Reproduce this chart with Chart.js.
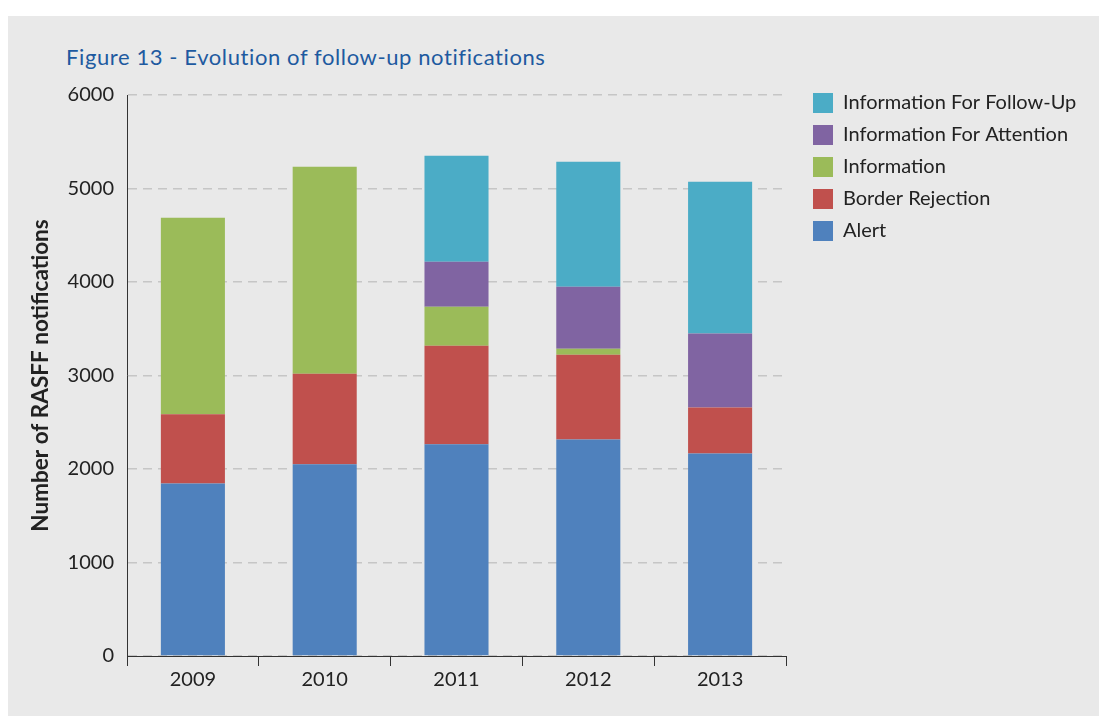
<!DOCTYPE html>
<html>
<head>
<meta charset="utf-8">
<script src="https://cdn.jsdelivr.net/npm/chart.js@4.4.1/dist/chart.umd.min.js"></script>
<style>
  html, body { margin: 0; padding: 0; background: #ffffff; }
  #panel { position: absolute; left: 8px; top: 16px; width: 1091px; height: 700px; background: #e9e9e9; }
  #title { position: absolute; left: 58px; top: 27px; font: 22px Lato, sans-serif; letter-spacing: 0.6px; color: #1e5aa0; white-space: nowrap; }
  #chart { position: absolute; left: 0; top: 0; }
</style>
</head>
<body>
<div id="panel">
  <div id="title">Figure 13 - Evolution of follow-up notifications</div>
  <canvas id="chart" width="1091" height="700"></canvas>
</div>
<script>
// Data ------------------------------------------------------------

const years = ['2009', '2010', '2011', '2012', '2013'];

const alert = [1845, 2051, 2265, 2315, 2166];
const borderRejection = [740, 969, 1054, 908, 491];
const information = [2102, 2212, 417, 64, 0];
const forAttention = [0, 0, 481, 662, 791];
const forFollowUp = [0, 0, 1132, 1336, 1623];

const yTicks = [0, 1000, 2000, 3000, 4000, 5000, 6000];

// Chart -----------------------------------------------------------

const textColor = '#222222';
const axisColor = '#333333';

// moves the legend a bit right and up so it sits like in the report,
// and lets it run to the canvas edge (legend clips to its own box)
const legendNudge = {
  id: 'legendNudge',
  afterLayout(chart) {
    const lg = chart.legend;
    lg.left += 15;
    lg.right = chart.width;
    lg.width = lg.right - lg.left;
    lg.top -= 14; lg.bottom -= 14;
  }
};

const data = {
  labels: years,
  datasets: [
    { label: 'Alert', data: alert, backgroundColor: '#4f81bd' },
    { label: 'Border Rejection', data: borderRejection, backgroundColor: '#c0504d' },
    { label: 'Information', data: information, backgroundColor: '#9bbb59' },
    { label: 'Information For Attention', data: forAttention, backgroundColor: '#8064a2' },
    { label: 'Information For Follow-Up', data: forFollowUp, backgroundColor: '#4bacc6' }
  ]
};

const config = {
  type: 'bar',
  data,
  options: {
    responsive: false,
    devicePixelRatio: 1,
    animation: false,
    barPercentage: 0.486,
    categoryPercentage: 1,
    borderWidth: 0,
    layout: { padding: { top: 79, left: 10, right: 57, bottom: 0 } },
    plugins: {
      tooltip: { enabled: false },
      legend: {
        position: 'right',
        align: 'start',
        reverse: true,
        labels: {
          boxWidth: 20,
          boxHeight: 20,
          padding: 12,
          color: textColor,
          font: { family: 'Lato', size: 20 }
        }
      }
    },
    scales: {
      x: {
        stacked: true,
        afterFit(scale) { scale.height = 60; },
        border: { display: true, color: axisColor, width: 1 },
        grid: { drawOnChartArea: false, drawTicks: true, tickLength: 10, color: axisColor, offset: true },
        ticks: { color: textColor, padding: 2, font: { family: 'Lato', size: 20 } }
      },
      y: {
        stacked: true,
        min: 0,
        max: 6000,
        afterFit(scale) { scale.width = 109; },
        afterBuildTicks(scale) { scale.ticks = yTicks.map(v => ({ value: v })); },
        border: { display: true, color: axisColor, width: 1, dash: [9, 6] },
        grid: { drawTicks: false, color: '#c6c6c6', lineWidth: 1.5 },
        ticks: {
          color: textColor,
          padding: 13,
          font: { family: 'Lato', size: 20 },
          callback: (v) => String(v)
        },
        title: {
          display: true,
          text: 'Number of RASFF notifications',
          color: textColor,
          padding: { top: 9.5, bottom: 0 },
          font: { family: 'Lato', size: 22.5, weight: 'bold' }
        }
      }
    }
  },
  plugins: [legendNudge]
};

const barChart = new Chart(document.getElementById('chart'), config);
</script>
</body>
</html>
